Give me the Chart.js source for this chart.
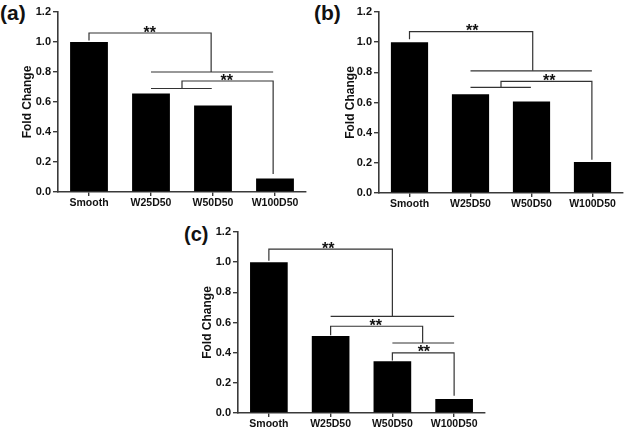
<!DOCTYPE html>
<html>
<head>
<meta charset="utf-8">
<script src="https://cdn.jsdelivr.net/npm/chart.js@4.4.1/dist/chart.umd.min.js"></script>
<style>
  html, body { margin: 0; padding: 0; background: #ffffff; }
  body { width: 628px; height: 429px; position: relative; overflow: hidden; font-family: "Liberation Sans", Arial, sans-serif; }
  .panel { position: absolute; }
  .lbl { position: absolute; font-family: "Liberation Sans", Arial, sans-serif; color: #111; line-height: 1; font-weight: bold; }
</style>
</head>
<body>
<div class="lbl" id="la" style="left:0px; top:2px; font-size:21px;">(a)</div>
<div class="lbl" id="lb" style="left:314px; top:2px; font-size:21px;">(b)</div>
<div class="lbl" id="lc" style="left:184px; top:224px; font-size:20px;">(c)</div>
<div class="panel" style="left:0px; top:0px;"><canvas id="ca" width="314" height="215"></canvas></div>
<div class="panel" style="left:314px; top:0px;"><canvas id="cb" width="314" height="215"></canvas></div>
<div class="panel" style="left:160px; top:215px;"><canvas id="cc" width="330" height="214"></canvas></div>
<script>
// ---- data ----
const categories = ["Smooth", "W25D50", "W50D50", "W100D50"];
const valuesA = [1.0, 0.657, 0.577, 0.09];
const valuesB = [1.0, 0.655, 0.607, 0.205];
const valuesC = [1.0, 0.51, 0.343, 0.093];
const yTicks = [0.0, 0.2, 0.4, 0.6, 0.8, 1.0, 1.2];
const yTitle = "Fold Change";
const sigMark = "**";

// significance brackets: polylines of [categoryIndex, value]
const bracketsA = [
  [[0, 1.01], [0, 1.06], [1.97, 1.06], [1.97, 0.80]],
  [[1, 0.80], [2.97, 0.80]],
  [[1.5, 0.69], [1.5, 0.74], [2.97, 0.74], [2.97, 0.12]],
  [[1, 0.69], [1.98, 0.69]]
];
const starsA = [[0.98, 1.06], [2.22, 0.74]];

const bracketsB = [
  [[0, 1.02], [0, 1.07], [2.02, 1.07], [2.02, 0.81]],
  [[1, 0.81], [2.99, 0.81]],
  [[1.5, 0.70], [1.5, 0.74], [2.99, 0.74], [2.99, 0.22]],
  [[1, 0.70], [1.99, 0.70]]
];
const starsB = [[1.03, 1.07], [2.29, 0.74]];

const bracketsC = [
  [[0, 1.01], [0, 1.087], [2.0, 1.087], [2.0, 0.64]],
  [[1, 0.64], [3, 0.64]],
  [[1, 0.515], [1, 0.575], [2.49, 0.575], [2.49, 0.464]],
  [[2, 0.464], [3, 0.464]],
  [[2, 0.348], [2, 0.398], [3, 0.398], [3, 0.115]]
];
const starsC = [[0.96, 1.087], [1.73, 0.575], [2.51, 0.398]];

// ---- drawing ----
const FONT = "'Liberation Sans', Arial, sans-serif";
const AXIS_COLOR = "#3a3a3a";

const bracketPlugin = {
  id: "brackets",
  afterDatasetsDraw(chart, args, opts) {
    const {ctx, scales: {x, y}} = chart;
    const px = (i) => {
      const lo = Math.floor(i), hi = Math.min(lo + 1, categories.length - 1);
      const a = x.getPixelForValue(lo), b = x.getPixelForValue(hi);
      return a + (b - a) * (i - lo);
    };
    ctx.save();
    ctx.strokeStyle = "#333333";
    ctx.lineWidth = 1.2;
    for (const poly of opts.lines) {
      ctx.beginPath();
      poly.forEach((p, k) => {
        const X = px(p[0]), Y = y.getPixelForValue(p[1]);
        if (k === 0) ctx.moveTo(X, Y); else ctx.lineTo(X, Y);
      });
      ctx.stroke();
    }
    ctx.fillStyle = "#111111";
    ctx.font = "bold 16px " + FONT;
    ctx.textAlign = "center";
    ctx.textBaseline = "alphabetic";
    for (const s of opts.stars) {
      ctx.fillText(sigMark, px(s[0]), y.getPixelForValue(s[1]) + 4.5);
    }
    ctx.restore();
  }
};

function makeChart(id, values, lines, stars, geo) {
  return new Chart(document.getElementById(id), {
    type: "bar",
    data: {
      labels: categories,
      datasets: [{
        data: values,
        backgroundColor: "#000000",
        borderWidth: 0,
        barPercentage: 0.61,
        categoryPercentage: 1.0
      }]
    },
    options: {
      responsive: false,
      animation: false,
      events: [],
      layout: { padding: { left: 0, top: geo.top, right: geo.right, bottom: 0 } },
      plugins: {
        legend: { display: false },
        tooltip: { enabled: false },
        brackets: { lines: lines, stars: stars }
      },
      scales: {
        x: {
          type: "category",
          offset: true,
          border: { display: true, color: AXIS_COLOR, width: 1.6 },
          grid: { offset: false, drawOnChartArea: false, drawTicks: true, tickLength: 4, color: AXIS_COLOR, lineWidth: 1.4 },
          ticks: { color: "#111", font: { family: FONT, size: 10.5, weight: "bold" }, padding: 1, maxRotation: 0, autoSkip: false },
          afterFit: (s) => { s.height = geo.xh; }
        },
        y: {
          min: 0, max: 1.2,
          afterBuildTicks: (s) => { s.ticks = yTicks.map(v => ({ value: v })); },
          border: { display: true, color: AXIS_COLOR, width: 1.6 },
          grid: { drawOnChartArea: false, drawTicks: true, tickLength: 5, color: AXIS_COLOR, lineWidth: 1.4 },
          ticks: { color: "#111", font: { family: FONT, size: 11, weight: "bold" }, padding: 2,
                   callback: (v) => Number(v).toFixed(1) },
          title: { display: true, text: yTitle, color: "#111", font: { family: FONT, size: 12, weight: "bold" },
                   padding: { top: geo.titlePad, bottom: 0 } },
          afterFit: (s) => { s.width = geo.yw; }
        }
      }
    },
    plugins: [bracketPlugin]
  });
}

makeChart("ca", valuesA, bracketsA, starsA, { top: 12, right: 8, xh: 23, yw: 58, titlePad: 20.5 });
makeChart("cb", valuesB, bracketsB, starsB, { top: 12, right: 5, xh: 22, yw: 65, titlePad: 29.5 });
makeChart("cc", valuesC, bracketsC, starsC, { top: 17, right: 5, xh: 16, yw: 78, titlePad: 40.5 });
</script>
</body>
</html>
